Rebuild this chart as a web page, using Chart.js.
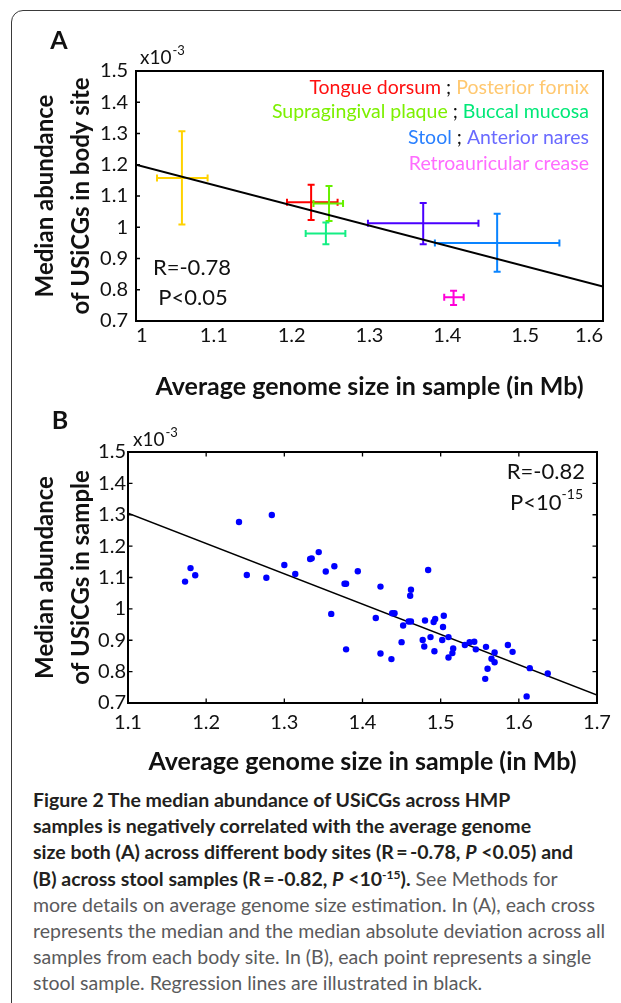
<!DOCTYPE html>
<html lang="en">
<head>
<meta charset="UTF-8" />
<title>Figure 2 - USiCG abundance vs genome size</title>
<script src="https://cdn.jsdelivr.net/npm/chart.js"></script>
<style>
  body { margin: 0; background: #fff; font-family: Lato, sans-serif; }
  .page { position: relative; width: 621px; height: 1003px; overflow: hidden; }
  .frame {
    position: absolute; left: 11px; top: 10px; width: 700px; height: 1100px;
    border: 1.5px solid #3a3a3a; border-radius: 12px;
  }
  #chartA { position: absolute; left: 0; top: 0; }
  #chartB { position: absolute; left: 0; top: 405px; }
  .caption {
    position: absolute; left: 33px; top: 787px;
    font-size: 19.5px; line-height: 26.2px; color: #5a5a5c; white-space: nowrap;
  }
  .caption b { color: #231f20; }
  .caption sup { font-size: 0.62em; line-height: 0; vertical-align: 0.6em; }
</style>
</head>
<body>
<div class="page">
  <div class="frame"></div>
  <canvas id="chartA" width="621" height="405"></canvas>
  <canvas id="chartB" width="621" height="375"></canvas>
  <div class="caption">
    <b>Figure 2 The median abundance of USiCGs across HMP</b><br>
    <b>samples is negatively correlated with the average genome</b><br>
    <b>size both (A) across different body sites (R&thinsp;=&thinsp;-0.78, <i>P</i> &lt;0.05) and</b><br>
    <b>(B) across stool samples (R&thinsp;=&thinsp;-0.82, <i>P</i> &lt;10<sup>-15</sup>).</b> See Methods for<br>
    more details on average genome size estimation. In (A), each cross<br>
    represents the median and the median absolute deviation across all<br>
    samples from each body site. In (B), each point represents a single<br>
    stool sample. Regression lines are illustrated in black.
  </div>
</div>

<script>
  // ---- panel A: body sites (median and MAD, abundance in units of 1e-3) ----
  const siteNames = ['Tongue dorsum', 'Posterior fornix', 'Supragingival plaque', 'Buccal mucosa',
                     'Stool', 'Anterior nares', 'Retroauricular crease']
  const siteGenome     = [1.225, 1.059, 1.248, 1.244, 1.464, 1.369, 1.408]
  const siteGenomeLow  = [1.194, 1.027, 1.228, 1.218, 1.384, 1.298, 1.396]
  const siteGenomeHigh = [1.259, 1.092, 1.266, 1.269, 1.544, 1.440, 1.421]
  const siteAbund      = [1.080, 1.158, 1.076, 0.980, 0.950, 1.013, 0.776]
  const siteAbundLow   = [1.023, 1.009, 1.020, 0.946, 0.858, 0.946, 0.751]
  const siteAbundHigh  = [1.136, 1.307, 1.132, 1.015, 1.043, 1.078, 0.797]
  const fitAx = [1.0, 1.6]
  const fitAy = [1.2, 0.81]

  // ---- panel B: stool samples ----
  const stoolGenome = [1.173, 1.180, 1.186, 1.242, 1.284, 1.252, 1.277, 1.300, 1.314, 1.333,
                       1.335, 1.344, 1.353, 1.364, 1.377, 1.379, 1.394, 1.423, 1.462, 1.461,
                       1.484, 1.360, 1.379, 1.417, 1.423, 1.437, 1.438, 1.441, 1.452, 1.450,
                       1.459, 1.462, 1.477, 1.479, 1.480, 1.487, 1.491, 1.493, 1.492, 1.503,
                       1.504, 1.502, 1.510, 1.510, 1.516, 1.515, 1.531, 1.537, 1.543, 1.545,
                       1.558, 1.557, 1.560, 1.565, 1.569, 1.569, 1.586, 1.592, 1.614, 1.610, 1.637]
  const stoolAbund  = [1.087, 1.130, 1.107, 1.277, 1.299, 1.108, 1.099, 1.140, 1.111, 1.159,
                       1.161, 1.181, 1.119, 1.136, 1.080, 1.080, 1.120, 1.071, 1.061, 1.042,
                       1.124, 0.984, 0.871, 0.971, 0.858, 0.840, 0.986, 0.986, 0.947, 0.894,
                       0.960, 0.960, 0.901, 0.880, 0.963, 0.910, 0.958, 0.968, 0.865, 0.942,
                       0.978, 0.901, 0.910, 0.845, 0.874, 0.859, 0.885, 0.894, 0.895, 0.871,
                       0.879, 0.777, 0.809, 0.841, 0.830, 0.861, 0.885, 0.863, 0.811, 0.721, 0.794]
  const fitBx = [1.1, 1.7]
  const fitBy = [1.305, 0.725]

  const yTicks = { min: 0.7, max: 1.5, step: 0.1 }

  // colours
  const crossColors  = ['#ff0000', '#ffd200', '#66f000', '#14ee84', '#0a84ff', '#4a00ff', '#ff00d8']
  const legendColors = ['#ff1010', '#ffc870', '#7cf000', '#00e878', '#2a80ff', '#6a6aff', '#ff6cff']
  const legendRows = [[0, 1], [2, 3], [4, 5], [6]]

  const FONT = 'Lato'
  const fmt = v => String(+(+v).toFixed(1))

  // frame of the plot + inward tick marks
  const boxPlugin = {
    id: 'box',
    afterDraw(chart, args, o) {
      const { ctx, chartArea: a, scales } = chart
      ctx.save()
      ctx.strokeStyle = '#000'
      ctx.lineWidth = 1.3
      ctx.beginPath()
      scales.y.ticks.forEach(t => {
        const y = scales.y.getPixelForValue(t.value)
        if (o.sides.includes('left')) { ctx.moveTo(a.left, y); ctx.lineTo(a.left + o.tickLen, y) }
        if (o.sides.includes('right')) { ctx.moveTo(a.right, y); ctx.lineTo(a.right - o.tickLen, y) }
      })
      scales.x.ticks.forEach(t => {
        const x = scales.x.getPixelForValue(t.value)
        if (o.sides.includes('bottom')) { ctx.moveTo(x, a.bottom); ctx.lineTo(x, a.bottom - o.tickLen) }
        if (o.sides.includes('top')) { ctx.moveTo(x, a.top); ctx.lineTo(x, a.top + o.tickLen) }
      })
      ctx.stroke()
      ctx.lineWidth = 2
      ctx.strokeRect(a.left, a.top, a.right - a.left, a.bottom - a.top)
      ctx.restore()
    }
  }

  // median +/- MAD crosses for panel A
  const crossPlugin = {
    id: 'crosses',
    beforeDatasetsDraw(chart) {
      const { ctx, scales: { x, y } } = chart
      const cap = 3.5
      ctx.save()
      ctx.lineWidth = 2
      siteNames.forEach((name, i) => {
        const cx = x.getPixelForValue(siteGenome[i])
        const cy = y.getPixelForValue(siteAbund[i])
        const x0 = x.getPixelForValue(siteGenomeLow[i])
        const x1 = x.getPixelForValue(siteGenomeHigh[i])
        const y0 = y.getPixelForValue(siteAbundLow[i])
        const y1 = y.getPixelForValue(siteAbundHigh[i])
        ctx.strokeStyle = crossColors[i]
        ctx.beginPath()
        ctx.moveTo(x0, cy); ctx.lineTo(x1, cy)
        ctx.moveTo(cx, y0); ctx.lineTo(cx, y1)
        ctx.moveTo(x0, cy - cap); ctx.lineTo(x0, cy + cap)
        ctx.moveTo(x1, cy - cap); ctx.lineTo(x1, cy + cap)
        ctx.moveTo(cx - cap, y0); ctx.lineTo(cx + cap, y0)
        ctx.moveTo(cx - cap, y1); ctx.lineTo(cx + cap, y1)
        ctx.stroke()
      })
      ctx.restore()
    }
  }

  // draw text runs, right aligned at xr
  function drawRuns(ctx, runs, xr, y) {
    let x = xr
    for (let k = runs.length - 1; k >= 0; k--) {
      const r = runs[k]
      ctx.font = r.font
      ctx.fillStyle = r.color
      const w = ctx.measureText(r.text).width
      x -= w
      ctx.fillText(r.text, x, y + (r.dy || 0))
    }
  }

  function drawExponent(ctx, x, y) {
    ctx.textAlign = 'left'
    ctx.font = `19px ${FONT}`
    ctx.fillStyle = '#111'
    ctx.fillText('x10', x, y)
    const w = ctx.measureText('x10').width
    ctx.font = `13px ${FONT}`
    ctx.fillText('-3', x + w + 1, y - 7)
  }

  const textA = {
    id: 'textA',
    afterDraw(chart) {
      const ctx = chart.ctx
      ctx.save()
      ctx.textBaseline = 'middle'
      ctx.fillStyle = '#111'
      ctx.font = `bold 25px ${FONT}`
      ctx.textAlign = 'center'
      ctx.fillText('A', 59, 41)
      drawExponent(ctx, 140, 58)

      const rowY = [87.3, 111.7, 137.7, 164]
      const lf = `19.5px ${FONT}`
      ctx.textAlign = 'left'
      legendRows.forEach((row, r) => {
        const runs = []
        row.forEach((i, k) => {
          if (k > 0) runs.push({ text: ' ; ', color: '#111', font: lf })
          runs.push({ text: siteNames[i], color: legendColors[i], font: lf })
        })
        drawRuns(ctx, runs, 589, rowY[r])
      })

      ctx.font = `22px ${FONT}`
      ctx.fillStyle = '#111'
      ctx.textAlign = 'center'
      ctx.fillText('R=-0.78', 192, 268)
      ctx.fillText('P<0.05', 193, 298)
      ctx.restore()
    }
  }

  const textB = {
    id: 'textB',
    afterDraw(chart) {
      const ctx = chart.ctx
      ctx.save()
      ctx.textBaseline = 'middle'
      ctx.fillStyle = '#111'
      ctx.font = `bold 25px ${FONT}`
      ctx.textAlign = 'center'
      ctx.fillText('B', 60, 16)
      drawExponent(ctx, 133, 35)

      ctx.textAlign = 'left'
      drawRuns(ctx, [{ text: 'R=-0.82', color: '#111', font: `22px ${FONT}` }], 585, 66.7)
      drawRuns(ctx, [
        { text: 'P<10', color: '#111', font: `22px ${FONT}` },
        { text: '-15', color: '#111', font: `14px ${FONT}`, dy: -9 }
      ], 583, 98)
      ctx.restore()
    }
  }

  function axisOptions(cfg) {
    return {
      x: {
        type: 'linear', min: cfg.xMin, max: cfg.xMax,
        afterFit: s => { s.height = cfg.xHeight },
        grid: { display: false, drawTicks: false },
        border: { display: false },
        ticks: {
          stepSize: 0.1, align: cfg.xAlign, padding: cfg.xPad, color: '#111',
          maxRotation: 0, autoSkip: false,
          font: { family: FONT, size: 20 }, callback: fmt
        },
        title: {
          display: true, text: 'Average genome size in sample (in Mb)', color: '#111',
          font: { family: FONT, size: 25, weight: 'bold', lineHeight: 1.2 },
          padding: { top: 0, bottom: 3 }
        }
      },
      y: {
        type: 'linear', min: yTicks.min, max: yTicks.max,
        afterFit: s => { s.width = cfg.yWidth },
        grid: { display: false, drawTicks: false },
        border: { display: false },
        ticks: {
          stepSize: yTicks.step, padding: cfg.yPad, color: '#111', autoSkip: false,
          font: { family: FONT, size: 20 }, callback: fmt
        },
        title: {
          display: true, text: cfg.yTitle, color: '#111',
          font: { family: FONT, size: 24, weight: 'bold', lineHeight: 1.48 },
          padding: { top: 28, bottom: 0 }
        }
      }
    }
  }

  function draw() {
    new Chart(document.getElementById('chartA'), {
      type: 'scatter',
      data: {
        datasets: [{
          type: 'line',
          data: fitAx.map((x, i) => ({ x, y: fitAy[i] })),
          borderColor: '#000', borderWidth: 2, pointRadius: 0
        }]
      },
      options: {
        responsive: false, animation: false, devicePixelRatio: 1,
        layout: { padding: { top: 71, right: 18, left: 0, bottom: 0 } },
        plugins: { legend: { display: false }, tooltip: { enabled: false },
                   box: { sides: ['left'], tickLen: 4 } },
        scales: axisOptions({ xMin: 1.0, xMax: 1.6, xHeight: 84, xAlign: 'inner', xPad: 3,
                              yWidth: 136, yPad: 8, yTitle: ['Median abundance', 'of USiCGs in body site'] })
      },
      plugins: [crossPlugin, boxPlugin, textA]
    })

    new Chart(document.getElementById('chartB'), {
      type: 'scatter',
      data: {
        datasets: [
          {
            data: stoolGenome.map((x, i) => ({ x, y: stoolAbund[i] })),
            backgroundColor: '#0000ff', borderWidth: 0, pointRadius: 3.2
          },
          {
            type: 'line',
            data: fitBx.map((x, i) => ({ x, y: fitBy[i] })),
            borderColor: '#000', borderWidth: 1.5, pointRadius: 0
          }
        ]
      },
      options: {
        responsive: false, animation: false, devicePixelRatio: 1,
        layout: { padding: { top: 47, right: 24, left: 0, bottom: 0 } },
        plugins: { legend: { display: false }, tooltip: { enabled: false },
                   box: { sides: ['left', 'right', 'top', 'bottom'], tickLen: 4.5 } },
        scales: axisOptions({ xMin: 1.1, xMax: 1.7, xHeight: 77, xAlign: 'center', xPad: 8,
                              yWidth: 128, yPad: 2, yTitle: ['Median abundance', 'of USiCGs in sample'] })
      },
      plugins: [boxPlugin, textB]
    })
  }

  Promise.all([
    document.fonts.load(`20px ${FONT}`),
    document.fonts.load(`bold 25px ${FONT}`)
  ]).then(draw, draw)
</script>
</body>
</html>
